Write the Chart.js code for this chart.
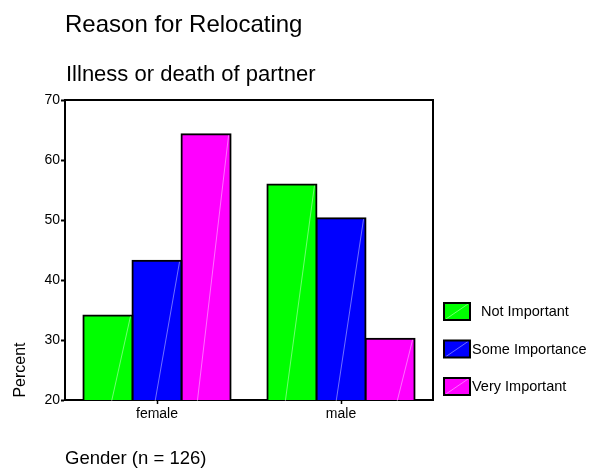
<!DOCTYPE html>
<html>
<head>
<meta charset="utf-8">
<script src="https://cdn.jsdelivr.net/npm/chart.js@4.4.0/dist/chart.umd.min.js"></script>
<style>
  body { margin: 0; background: #fff; }
  #wrap { width: 601px; height: 468px; }
</style>
</head>
<body>
<div id="wrap"><canvas id="chart" width="601" height="468"></canvas></div>
<script>
const categories = ['female', 'male']
const notImportant = [34.1, 55.9]
const someImportance = [43.2, 50.3]
const veryImportant = [64.3, 30.2]
const seriesNames = ['Not Important', 'Some Importance', 'Very Important']
const yMin = 20, yMax = 70, yStep = 10

const FONT = '"Liberation Sans", Arial, sans-serif'

/** frame, diagonals, titles and legend */
const extras = {
    id: 'extras',
    afterDatasetsDraw(chart) {
        const ctx = chart.ctx
        // thin diagonal lines in bars
        ctx.save()
        ctx.strokeStyle = 'rgba(255,255,255,0.55)'
        ctx.lineWidth = 0.8
        chart.data.datasets.forEach((ds, i) => {
            chart.getDatasetMeta(i).data.forEach(bar => {
                const p = bar.getProps(['x', 'y', 'base', 'width'], true)
                const l = p.x - p.width / 2 + 2, r = p.x + p.width / 2 - 2
                ctx.beginPath()
                ctx.moveTo(l, p.base - 1)
                ctx.lineTo(r, p.y + 1)
                ctx.stroke()
            })
        })
        ctx.restore()
    },
    afterDraw(chart) {
        const ctx = chart.ctx
        const a = chart.chartArea
        ctx.save()
        // top and right frame
        ctx.strokeStyle = '#000'
        ctx.lineWidth = 2
        ctx.beginPath()
        ctx.moveTo(a.left, a.top)
        ctx.lineTo(a.right, a.top)
        ctx.lineTo(a.right, a.bottom)
        ctx.stroke()

        ctx.fillStyle = '#000'
        ctx.textBaseline = 'alphabetic'
        ctx.textAlign = 'left'
        ctx.font = '24px ' + FONT
        ctx.fillText('Reason for Relocating', 65, 32)
        ctx.font = '22px ' + FONT
        ctx.fillText('Illness or death of partner', 66, 81)
        ctx.font = '18.5px ' + FONT
        ctx.fillText('Gender (n = 126)', 65, 464)

        ctx.save()
        ctx.translate(25, 370)
        ctx.rotate(-Math.PI / 2)
        ctx.textAlign = 'center'
        ctx.font = '16px ' + FONT
        ctx.fillText('Percent', 0, 0)
        ctx.restore()

        // legend
        const textX = [481, 472, 472]
        ctx.font = '14.5px ' + FONT
        ctx.textBaseline = 'middle'
        chart.data.datasets.forEach((ds, i) => {
            const y = 303 + i * 37.5
            ctx.fillStyle = ds.backgroundColor
            ctx.fillRect(444, y, 26, 17)
            ctx.strokeStyle = 'rgba(255,255,255,0.55)'
            ctx.lineWidth = 0.8
            ctx.beginPath()
            ctx.moveTo(446, y + 16)
            ctx.lineTo(468, y + 1)
            ctx.stroke()
            ctx.strokeStyle = '#000'
            ctx.lineWidth = 2
            ctx.strokeRect(444, y, 26, 17)
            ctx.fillStyle = '#000'
            ctx.fillText(ds.label, textX[i], y + 9)
        })
        ctx.restore()
    }
}

const colors = ['#00ff00', '#0000ff', '#ff00ff']
const values = [notImportant, someImportance, veryImportant]

new Chart(document.getElementById('chart'), {
    type: 'bar',
    data: {
        labels: categories,
        datasets: values.map((v, i) => ({
            label: seriesNames[i],
            data: v,
            backgroundColor: colors[i],
            borderColor: '#000',
            borderWidth: 2,
            borderSkipped: false,
            inflateAmount: 1,
            categoryPercentage: 0.8,
            barPercentage: 1.0
        }))
    },
    options: {
        responsive: false,
        animation: false,
        layout: { padding: { left: 0, top: 100, right: 168, bottom: 38 } },
        plugins: {
            legend: { display: false },
            tooltip: { enabled: false },
            title: { display: false }
        },
        scales: {
            x: {
                afterFit: s => { s.height = 30 },
                grid: { display: true, drawOnChartArea: false, offset: false, tickLength: 4, tickColor: '#000', tickWidth: 1.5 },
                border: { display: true, color: '#000', width: 2 },
                ticks: { color: '#000', font: { family: FONT, size: 14 }, padding: 2 }
            },
            y: {
                min: yMin,
                max: yMax,
                afterFit: s => { s.width = 65 },
                grid: { display: true, drawOnChartArea: false, tickLength: 4, tickColor: '#000', tickWidth: 2 },
                border: { display: true, color: '#000', width: 2 },
                ticks: { stepSize: yStep, color: '#000', font: { family: FONT, size: 14 }, padding: 1 }
            }
        }
    },
    plugins: [extras]
})
</script>
</body>
</html>
